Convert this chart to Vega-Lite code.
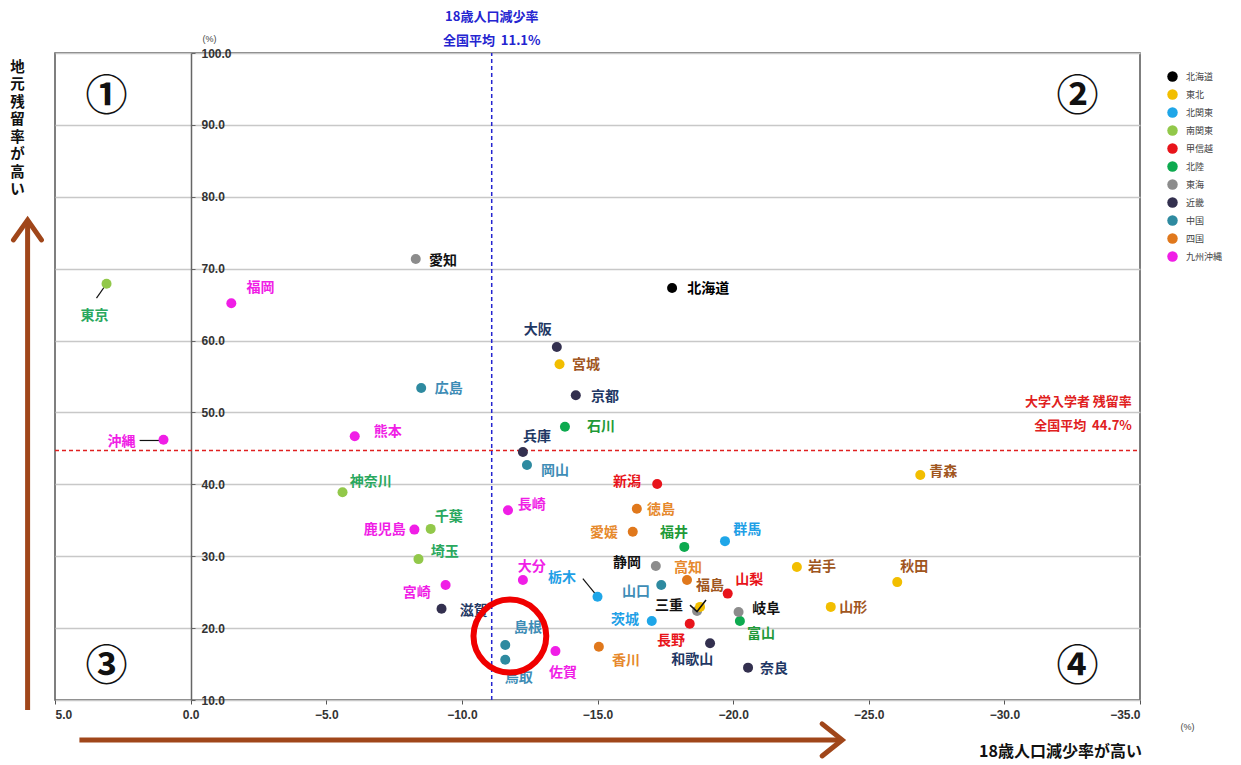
{
  "$schema": "https://vega.github.io/schema/vega-lite/v6.json",
  "width": 1085,
  "height": 647,
  "autosize": "none",
  "padding": {"left": 55, "top": 53, "right": 101, "bottom": 65},
  "background": "white",
  "config": {
    "view": {"stroke": "#555555", "strokeWidth": 1.5},
    "font": "Noto Sans CJK JP"
  },
  "datasets": {
    "pref": [
      {"name":"北海道","region":"北海道","x":-17.75,"y":67.3},
      {"name":"青森","region":"東北","x":-26.9,"y":41.3},
      {"name":"岩手","region":"東北","x":-22.35,"y":28.5},
      {"name":"宮城","region":"東北","x":-13.6,"y":56.7},
      {"name":"秋田","region":"東北","x":-26.05,"y":26.4},
      {"name":"山形","region":"東北","x":-23.6,"y":22.95},
      {"name":"茨城","region":"北関東","x":-17.0,"y":21.0},
      {"name":"栃木","region":"北関東","x":-15.0,"y":24.35},
      {"name":"群馬","region":"北関東","x":-19.7,"y":32.1},
      {"name":"埼玉","region":"南関東","x":-8.4,"y":29.6},
      {"name":"千葉","region":"南関東","x":-8.85,"y":33.8},
      {"name":"東京","region":"南関東","x":3.1,"y":67.9},
      {"name":"神奈川","region":"南関東","x":-5.6,"y":38.9},
      {"name":"新潟","region":"甲信越","x":-17.2,"y":40.05},
      {"name":"山梨","region":"甲信越","x":-19.8,"y":24.8},
      {"name":"長野","region":"甲信越","x":-18.4,"y":20.6},
      {"name":"富山","region":"北陸","x":-20.25,"y":21.0},
      {"name":"石川","region":"北陸","x":-13.8,"y":48.0},
      {"name":"福井","region":"北陸","x":-18.2,"y":31.3},
      {"name":"岐阜","region":"東海","x":-20.2,"y":22.25},
      {"name":"静岡","region":"東海","x":-17.15,"y":28.65},
      {"name":"愛知","region":"東海","x":-8.3,"y":71.35},
      {"name":"三重","region":"東海","x":-18.67,"y":22.39},
      {"name":"福島","region":"東北","x":-18.78,"y":22.95},
      {"name":"滋賀","region":"近畿","x":-9.25,"y":22.7},
      {"name":"京都","region":"近畿","x":-14.2,"y":52.4},
      {"name":"大阪","region":"近畿","x":-13.5,"y":59.1},
      {"name":"兵庫","region":"近畿","x":-12.25,"y":44.5},
      {"name":"奈良","region":"近畿","x":-20.55,"y":14.5},
      {"name":"和歌山","region":"近畿","x":-19.15,"y":17.9},
      {"name":"鳥取","region":"中国","x":-11.6,"y":15.6},
      {"name":"島根","region":"中国","x":-11.6,"y":17.65},
      {"name":"岡山","region":"中国","x":-12.4,"y":42.7},
      {"name":"広島","region":"中国","x":-8.5,"y":53.4},
      {"name":"山口","region":"中国","x":-17.35,"y":26.0},
      {"name":"徳島","region":"四国","x":-16.45,"y":36.6},
      {"name":"香川","region":"四国","x":-15.05,"y":17.4},
      {"name":"愛媛","region":"四国","x":-16.3,"y":33.4},
      {"name":"高知","region":"四国","x":-18.3,"y":26.7},
      {"name":"福岡","region":"九州沖縄","x":-1.5,"y":65.2},
      {"name":"佐賀","region":"九州沖縄","x":-13.45,"y":16.8},
      {"name":"長崎","region":"九州沖縄","x":-11.7,"y":36.4},
      {"name":"熊本","region":"九州沖縄","x":-6.05,"y":46.7},
      {"name":"大分","region":"九州沖縄","x":-12.25,"y":26.7},
      {"name":"宮崎","region":"九州沖縄","x":-9.4,"y":26.0},
      {"name":"鹿児島","region":"九州沖縄","x":-8.25,"y":33.7},
      {"name":"沖縄","region":"九州沖縄","x":1.0,"y":46.2}
    ],
    "labels": [
      {"name":"北海道","region":"北海道","x":-19.08,"y":67.18},
      {"name":"愛知","region":"東海","x":-9.3,"y":71.07},
      {"name":"東京","region":"南関東","x":3.54,"y":63.42},
      {"name":"福岡","region":"九州沖縄","x":-2.58,"y":67.32},
      {"name":"大阪","region":"近畿","x":-12.8,"y":61.47},
      {"name":"宮城","region":"東北","x":-14.58,"y":56.61},
      {"name":"広島","region":"中国","x":-9.52,"y":53.27},
      {"name":"京都","region":"近畿","x":-15.28,"y":52.16},
      {"name":"石川","region":"北陸","x":-15.13,"y":47.98},
      {"name":"熊本","region":"九州沖縄","x":-7.27,"y":47.29},
      {"name":"沖縄","region":"九州沖縄","x":2.55,"y":45.9},
      {"name":"兵庫","region":"近畿","x":-12.77,"y":46.59},
      {"name":"岡山","region":"中国","x":-13.43,"y":41.86},
      {"name":"新潟","region":"甲信越","x":-16.09,"y":40.33},
      {"name":"青森","region":"東北","x":-27.75,"y":41.72},
      {"name":"神奈川","region":"南関東","x":-6.64,"y":40.33},
      {"name":"長崎","region":"九州沖縄","x":-12.58,"y":37.13},
      {"name":"徳島","region":"四国","x":-17.34,"y":36.44},
      {"name":"愛媛","region":"四国","x":-15.24,"y":33.24},
      {"name":"福井","region":"北陸","x":-17.82,"y":33.24},
      {"name":"群馬","region":"北関東","x":-20.52,"y":33.66},
      {"name":"千葉","region":"南関東","x":-9.52,"y":35.47},
      {"name":"鹿児島","region":"九州沖縄","x":-7.16,"y":33.66},
      {"name":"埼玉","region":"南関東","x":-9.37,"y":30.6},
      {"name":"静岡","region":"東海","x":-16.09,"y":29.07},
      {"name":"岩手","region":"東北","x":-23.28,"y":28.51},
      {"name":"秋田","region":"東北","x":-26.68,"y":28.51},
      {"name":"高知","region":"四国","x":-18.34,"y":28.37},
      {"name":"大分","region":"九州沖縄","x":-12.58,"y":28.51},
      {"name":"宮崎","region":"九州沖縄","x":-8.34,"y":24.9},
      {"name":"山口","region":"中国","x":-16.42,"y":25.03},
      {"name":"福島","region":"東北","x":-19.15,"y":25.87},
      {"name":"三重","region":"東海","x":-17.64,"y":23.09},
      {"name":"山梨","region":"甲信越","x":-20.59,"y":26.7},
      {"name":"栃木","region":"北関東","x":-13.69,"y":26.98},
      {"name":"岐阜","region":"東海","x":-21.22,"y":22.67},
      {"name":"山形","region":"東北","x":-24.43,"y":22.81},
      {"name":"滋賀","region":"近畿","x":-10.44,"y":22.39},
      {"name":"茨城","region":"北関東","x":-16.01,"y":21.14},
      {"name":"富山","region":"北陸","x":-21.03,"y":19.19},
      {"name":"長野","region":"甲信越","x":-17.71,"y":18.22},
      {"name":"和歌山","region":"近畿","x":-18.49,"y":15.58},
      {"name":"島根","region":"中国","x":-12.44,"y":20.03},
      {"name":"鳥取","region":"中国","x":-12.1,"y":13.07},
      {"name":"佐賀","region":"九州沖縄","x":-13.73,"y":13.77},
      {"name":"香川","region":"四国","x":-16.05,"y":15.44},
      {"name":"奈良","region":"近畿","x":-21.51,"y":14.33}
    ]
  },
  "encoding": {
    "x": {
      "field": "x", "type": "quantitative",
      "scale": {"domain": [-35, 5], "reverse": true, "nice": false, "zero": false},
      "axis": {
        "title": null, "values": [5, 0, -5, -10, -15, -20, -25, -30, -35], "format": ".1f",
        "grid": false, "domain": false, "tickColor": "#555555", "tickSize": 4,
        "labelFont": "Liberation Sans", "labelFontWeight": "bold", "labelFontSize": 12,
        "labelColor": "#333333", "labelPadding": 5
      }
    },
    "y": {
      "field": "y", "type": "quantitative",
      "scale": {"domain": [10, 100], "nice": false, "zero": false},
      "axis": {
        "orient": "right", "offset": -949, "title": null,
        "values": [10, 20, 30, 40, 50, 60, 70, 80, 90, 100], "format": ".1f",
        "grid": true, "gridColor": "#C8C8C8", "gridWidth": 1.5,
        "domainColor": "#666666", "domainWidth": 1.5, "tickColor": "#666666", "tickSize": 4,
        "labelFont": "Liberation Sans", "labelFontWeight": "bold", "labelFontSize": 12,
        "labelColor": "#333333", "labelPadding": 6
      }
    }
  },
  "layer": [
    {
      "data": {"values": [{"x": 5, "x2": -35, "y": 44.7}]},
      "mark": {"type": "rule", "stroke": "#E02020", "strokeWidth": 1.5, "strokeDash": [4, 3]},
      "encoding": {"x2": {"field": "x2"}}
    },
    {
      "data": {"values": [{"x": -11.1, "y": 10, "y2": 100}]},
      "mark": {"type": "rule", "stroke": "#2424D0", "strokeWidth": 1.5, "strokeDash": [4, 3]},
      "encoding": {"y2": {"field": "y2"}}
    },
    {
      "data": {"values": [
        {"x": 3.1, "y": 67.9, "x2": 3.47, "y2": 65.9},
        {"x": 1.88, "y": 46.1, "x2": 1.07, "y2": 46.1},
        {"x": -14.46, "y": 26.9, "x2": -14.98, "y2": 24.5}
      ]},
      "mark": {"type": "rule", "stroke": "#111111", "strokeWidth": 1.2},
      "encoding": {"x2": {"field": "x2"}, "y2": {"field": "y2"}}
    },
    {
      "data": {"name": "pref"},
      "mark": {"type": "point", "filled": true, "size": 100, "opacity": 1},
      "encoding": {
        "color": {
          "field": "region", "type": "nominal",
          "scale": {
            "domain": ["北海道","東北","北関東","南関東","甲信越","北陸","東海","近畿","中国","四国","九州沖縄"],
            "range": ["#000000","#F2BE00","#1FA6E8","#92C84A","#E8141B","#0DAA4F","#8C8C8C","#33304F","#2E8AA0","#E0781C","#F01EE6"]
          },
          "legend": {
            "title": null, "orient": "none", "legendX": 1112, "legendY": 18,
            "symbolType": "circle", "symbolSize": 110, "symbolStrokeWidth": 0,
            "labelFont": "Noto Sans CJK JP", "labelFontSize": 9, "labelColor": "#444444",
            "rowPadding": 7, "labelOffset": 8
          }
        }
      }
    },
    {
      "data": {"values": [
        {"x": -18.41, "y": 23.2, "i": 1},
        {"x": -18.67, "y": 22.3, "i": 2},
        {"x": -19.0, "y": 23.9, "i": 3}
      ]},
      "mark": {"type": "line", "stroke": "#111111", "strokeWidth": 1.5},
      "encoding": {"order": {"field": "i"}}
    },
    {
      "data": {"name": "labels"},
      "mark": {"type": "text", "font": "Noto Sans CJK JP", "fontWeight": "bold", "fontSize": 14, "align": "center", "baseline": "middle"},
      "encoding": {
        "text": {"field": "name"},
        "color": {
          "field": "region", "type": "nominal",
          "scale": {
            "domain": ["北海道","東北","北関東","南関東","甲信越","北陸","東海","近畿","中国","四国","九州沖縄"],
            "range": ["#000000","#A0561E","#1FA0E6","#2AA85E","#E8141B","#1F9A38","#111111","#1F3864","#3E8DB6","#E6892C","#F01EE6"]
          },
          "legend": null
        }
      }
    },
    {
      "data": {"values": [{"x": -11.77, "y": 18.9}]},
      "mark": {"type": "point", "shape": "circle", "filled": false, "size": 5300, "stroke": "#F00000", "strokeWidth": 6, "opacity": 1}
    },
    {
      "data": {"values": [
        {"t": "①", "x": 3.1, "y": 93.9},
        {"t": "②", "x": -32.7, "y": 93.9},
        {"t": "③", "x": 3.1, "y": 14.6},
        {"t": "④", "x": -32.7, "y": 14.6}
      ]},
      "mark": {"type": "text", "font": "Noto Sans CJK JP", "fontWeight": "bold", "fontSize": 42, "align": "center", "baseline": "middle", "color": "#111111"},
      "encoding": {"text": {"field": "t"}}
    },
    {
      "data": {"values": [
        {"t": "18歳人口減少率", "x": -11.1, "y": 105.0},
        {"t": "全国平均\u00a0\u00a011.1%", "x": -11.1, "y": 101.7}
      ]},
      "mark": {"type": "text", "font": "Noto Sans CJK JP", "fontWeight": "bold", "fontSize": 13, "align": "center", "baseline": "middle", "color": "#2424D0"},
      "encoding": {"text": {"field": "t"}}
    },
    {
      "data": {"values": [
        {"t": "大学入学者 残留率", "x": -34.7, "y": 51.46},
        {"t": "全国平均\u00a0\u00a044.7%", "x": -34.7, "y": 48.12}
      ]},
      "mark": {"type": "text", "font": "Noto Sans CJK JP", "fontWeight": "bold", "fontSize": 13, "align": "right", "baseline": "middle", "color": "#E02020"},
      "encoding": {"text": {"field": "t"}}
    },
    {
      "data": {"values": [
        {"t": "(%)", "x": -0.7, "y": 101.9},
        {"t": "(%)", "x": -36.75, "y": 6.3}
      ]},
      "mark": {"type": "text", "font": "Liberation Sans", "fontSize": 9, "align": "center", "baseline": "middle", "color": "#444444"},
      "encoding": {"text": {"field": "t"}}
    },
    {
      "data": {"values": [{"t": "18歳人口減少率が高い", "x": -32.07, "y": 2.8}]},
      "mark": {"type": "text", "font": "Noto Sans CJK JP", "fontWeight": "bold", "fontSize": 16, "align": "center", "baseline": "middle", "color": "#111111"},
      "encoding": {"text": {"field": "t"}}
    },
    {
      "data": {"values": [{"x": 6.38, "y": 98.9}]},
      "mark": {"type": "text", "text": ["地","元","残","留","率","が","高","い"], "lineHeight": 17.5, "font": "Noto Sans CJK JP", "fontWeight": "bold", "fontSize": 14.5, "align": "center", "baseline": "top", "color": "#111111"}
    },
    {
      "data": {"values": [
        {"x": 4.1, "y": 4.45, "x2": -23.9, "y2": 4.45},
        {"x": 6.01, "y": 8.6, "x2": 6.01, "y2": 76.5}
      ]},
      "mark": {"type": "rule", "stroke": "#A0461A", "strokeWidth": 5},
      "encoding": {"x2": {"field": "x2"}, "y2": {"field": "y2"}}
    },
    {
      "data": {"values": [
        {"g": "h", "i": 1, "x": -23.28, "y": 6.68},
        {"g": "h", "i": 2, "x": -24.02, "y": 4.45},
        {"g": "h", "i": 3, "x": -23.28, "y": 2.22},
        {"g": "v", "i": 1, "x": 6.53, "y": 74.0},
        {"g": "v", "i": 2, "x": 6.01, "y": 76.77},
        {"g": "v", "i": 3, "x": 5.5, "y": 74.0}
      ]},
      "mark": {"type": "line", "stroke": "#A0461A", "strokeWidth": 5, "strokeCap": "round", "strokeJoin": "miter"},
      "encoding": {"detail": {"field": "g"}, "order": {"field": "i"}}
    }
  ],
  "resolve": {"scale": {"color": "independent"}}
}
